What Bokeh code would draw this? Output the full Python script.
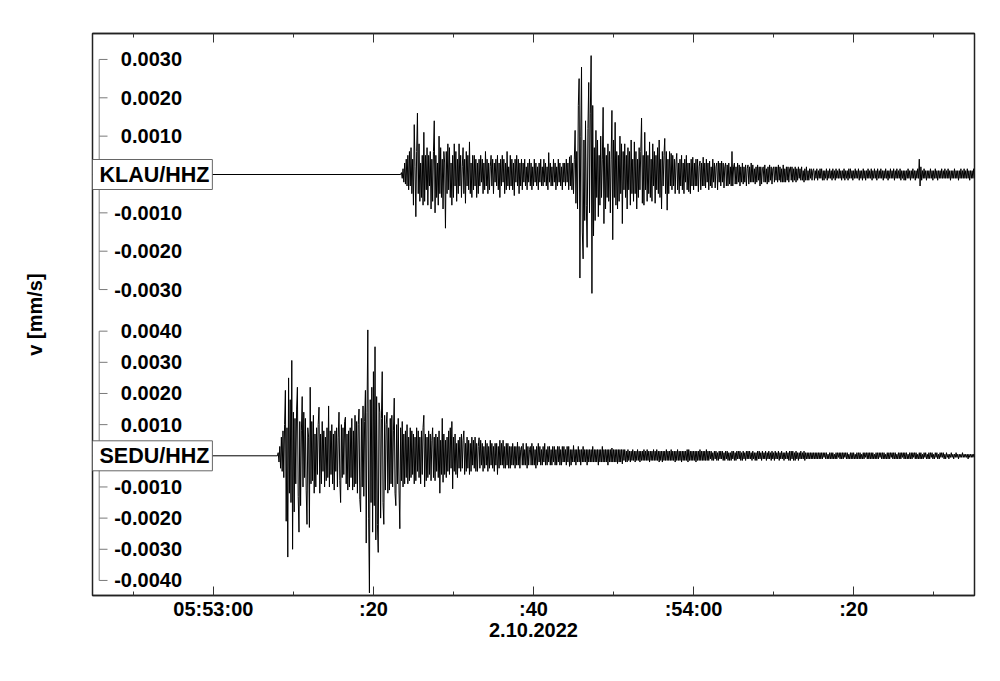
import pandas as pd
from bokeh.plotting import figure
from bokeh.models import Range1d, LinearAxis, FixedTicker, Label, ColumnDataSource
from bokeh.embed import file_html
from bokeh.resources import INLINE
from bokeh.core.properties import value

# ---------------- data ----------------
DATE_LABEL = "2.10.2022"
REF_TIME = "2022-10-02 05:53:00"          # time of the 05:53:00 tick
VIEW_START = -15.1                          # s relative to REF_TIME
VIEW_END = 95.1
UNIT = 1e-4                                 # trace values are in 1e-4 mm/s
DT = 0.1                                    # sample interval of the lists below (s)

MAJOR_TICKS = [0, 20, 40, 60, 80]           # s relative to REF_TIME
MAJOR_LABELS = ["05:53:00", ":20", ":40", ":54:00", ":20"]
MINOR_TICKS = [-10, 10, 30, 50, 70, 90]

STATIONS = ["KLAU/HHZ", "SEDU/HHZ"]
KLAU_TICKS = [0.0030, 0.0020, 0.0010, -0.0010, -0.0020, -0.0030]
SEDU_TICKS = [0.0040, 0.0030, 0.0020, 0.0010, -0.0010, -0.0020, -0.0030, -0.0040]

KLAU_RECORD_START = -15.2                   # quiet trace before the onset
KLAU_ONSET = 23.4
KLAU_VALUES = [
    0, 0.5, -1, 1.5, -2, 3, -2.5, 4, -3, 5,
    -4, 6, -3, 7, -5, 4, -8, 13, 2, -11,
    6, 16, -5, 8, -7, 3, -6, 5, -8, 11,
    -7, 5, -4, 7, -8, 5, -3, 6, -9, 4,
    -7, 6, 14, -10, 5, -6, 3, -8, 10, -5,
    7, -6, 4, -9, 6, 3, -14, 6, -5, 8,
    -4, 7, -6, 3, -8, 5, -6, 8, -3, 6,
    -7, 4, -5, 8, -3, 5, -6, 2, 7, -5,
    4, -7.5, 6, -3, 5, -4, 8.5, -5, 3, -6,
    5, -4, 5, -3, 4, -6, 3, -5, 4, -3,
    5, -2, 4, -5, 3, -4, 6, -3, 4, -5,
    3, -4, 2, 5, -3, 4, -5, 3, -2, 4,
    -3, 5, -4, 3, -6, 4, -3, 5, -2, 4,
    -5, 3, -4, 6, -3, 2, -4, 5, -3, 4,
    -4, 3, -5.5, 4, -2, 5, -3, 4, -5, 3,
    -3, 4, -4, 3, -2, 4, -3, 2, -4, 3,
    -2, 4, -3, 3, -4, 2, -3, 4, -2, 3,
    -3, 2, -4, 3, -2, 4, -3, 2, -3, 4,
    -2, 3, -3, 2, -4, 5.7, -2, 3, -3, 2,
    -3, 4, -2, 3, -4, 2, -3, 4, -2, 3,
    -3, 2, -4, 3, -2, 3, -3, 4, -2, 3,
    -4, 4.6, -3, 5, -4, 3, -5, 4, 11.5, -7.5,
    6, -9, 18, 25, -27, 10, 28, -15, -22, 9,
    -12, 14, -8, -19, 12, 24, -10, 16, 31, -31,
    18, -16, 7, -12, 11.5, -6, 9, -11, 5, -8,
    10, -6, 4, 17.5, -12.8, 7, -9, 5, -6, 8,
    -7, 6, -10, 4, 16.7, -17, 9, -6, 13.6, -8,
    6, -9, 5, -7, 10, -5, 8, -12.8, 6, -4,
    8, -6, 5, -9, 7, -4, 6, -8, 9, -5,
    4, -7, 8.5, -5, 6, -9, 4, -6, 7, -4,
    6, 14.7, -7.5, 5, -8, 11, -4, 6, -7, 5,
    -5, 8.5, -6, 4, -7, 8, -3, 6, -7.5, 5,
    -4, 7, -5, 9, -6, 4, -9, 6, -3, 5,
    9.4, -5, 6, -9.3, 4, -5, 6, -3, 5.5, -4,
    5, -3, 4, -5, 3, 5.5, -4, 3, -5, 4,
    -3, 5, -4, 3, -5, 4, -2, 5, -4, 3,
    -4.5, 3, -5, 4, -3, 4.5, -4, 3, -3, 4,
    -3, 4, -4.5, 2, 3.5, -4, 3, -3, 4.5, -3,
    3, -3.5, 4, -2, 3, -4, 3.5, -3, 2, -3.5,
    4, -2, 3, -3.5, 2, 3, -4, 3.5, -2, 3,
    -3, 3.5, -2, 3, -3.5, 2, 3, -3, 2.5, -3,
    3, -2.5, 2, -3, 6, -3, 2, 3, -2.5, 2,
    -2.5, 3, -2, 2.5, -3, 2, -2, 3, -2.5, 2,
    -2, 2.5, -3, 1.5, 2.5, -2.5, 2, -2, 3, -2,
    2.5, -2, 1.5, -2.5, 2, -2, 2.5, -1.5, 2, -3,
    2, -2.5, 1.5, 2, -2, 2.5, -2, 1.5, -2.5, 2,
    -2, 2.5, -1.5, 2, -2.5, 1.5, 2, -2, 2, -1.5,
    2, -2, 2.5, -1.5, 2, -2, 1.5, -2, 2.5, -2,
    1.5, -2, 2, -1.5, 2, -2, 1.5, 2, -1.5, 2,
    -2, 1.5, -1.5, 2, -2, 1.5, -1.5, 2, -1, 1.5,
    -1.5, 2, -1.5, 1, -2, 1.5, -1.5, 2, -1.5, 1,
    -1.5, 1.5, -1, 1.5, -1.5, 1, 1.5, -1.5, 1, -1,
    1.5, -1.5, 1, -1, 1.5, -1, 1.5, -1.5, 1, -1.5,
    1, -1, 1.5, -1.5, 1, -1, 1.5, -1, 1, -1.5,
    1.5, -1, 1, -1.5, 1.5, -1, 1, -1, 1.5, -1,
    1, -1.5, 1, -1, 1.5, -1.5, 1, -1, 1, -1.5,
    1.5, -1, 1.5, -1, 1, -1.5, 1, -1, 1.5, -1,
    1, -1, 1.5, -1.5, 1, -1, 1, -1.5, 1.5, -1,
    1, -1.5, 1, -1, 1.5, -1, 1, -1, 1.5, -1.5,
    1, -1, 1.5, -1, 1, -1.5, 1.5, -1, 1, -1,
    1.5, -1, 1, -1.5, 1, -1, 1.5, -1, 1, -1.5,
    1, -1, 1.5, -1, 1, -1, 1.5, -1.5, 1, -1,
    1.5, -1, 1, -1, 1.5, -1.5, 1, -1, 1, -1.5,
    1, -1.5, 1, -1, 1.5, -1, 1, -1.5, 1, -1,
    1.5, -1, 1, -1.5, 1, -1, 1.5, -1, 4, -3,
    2, -1.5, 1, -1, 1.5, -1, 1, -1.5, 1, -1,
    1, -1, 1.5, -1, 1, -1.5, 1, -1, 1.5, -1,
    1, -1.5, 1, -1, 1, -1, 1.5, -1, 1, -1,
    1.5, -1, 1, -1, 1.5, -1, 1, -1.5, 1, -1,
    1, -1, 1.5, -1, 1, -1, 1, -1.5, 1, -1,
    1.5, -1, 1, -1, 1.5, -1, 1, -1, 1.5, -1,
    1, -1.5, 1, -1, 1, -1, 1.5, -1,
]

SEDU_RECORD_START = -15.2
SEDU_ONSET = 8.0
SEDU_VALUES = [
    0, 1, -2, 3, -4, 6, -5, 8, -7, 10,
    21, -21, 9, -32.5, 25, -12, 18, -15, 30.6, -30,
    14, -18, 12, -9, 15, 22, -13, -24.5, 11, -16,
    8, 19, -10, 14, -7, 12, -11, -22, 9, 6,
    -23, 22, -9, 11, -8, 13, -12, 7, -10, 9,
    -6, 10, 15.6, -12, 7, -9, 11, -5, 8, -10,
    6, -8, 9, -7, 16, -10, 8, -6, 10, -9,
    7, -11, 8, -5, 9, -10, 6, 14, -8, -15,
    10, -7, 9, -6, 11, 12.4, -9, 7, -11, 8,
    -10, 9, -7, 12, -11, 8, -10, 13, -9, 11,
    -12, 10, 15, -14, -18, 12, -10, 16, -13, 11,
    21, -28, 14, 40.4, -20, -44, 18, -15, 22, -24.5,
    27, -16, 35, -27, 19, -22, -31, 17, 14, -20,
    12, 27, -15, -22, 13, -11, 10, 14, -12, 9,
    -11, 12, -9, 13, -10, 8, 18.5, -12, -16, 10,
    -9, 12, -11, -23.4, 9, -8, 11, -10, 7, -9,
    8, -7, 10, -9, 6, -8, 9, -7, 8, -6,
    7, -9, 6, -8, 9, -5, 8, -7, 6, -9,
    8, -6, 9, 13, -10, 7, -8, 6, -7, 8,
    -6, 7, -8, 5, 9, -7, 6, -8, 7, -5,
    6, -7, 8, -12, 5, -6, 12, -8.5, 7, -6,
    5, -7, 6, -5, 8, -6, 9, -4, 11, -10.6,
    6, -5, 7, -6, 4, -7, 5, -4, 6, -5,
    7, -4, 5, 8, -6, 4, -5, 6, -4, 5,
    -6, 4, -5, 6, -3, 5, -4, 6, -5, 4,
    -5, 3, 5.8, -4, 5, -3, 4, -5, 3, -4,
    5, -3, 4, -5, 3, -4, 5, -3, 4, -4,
    3, -5, 4, -3, 4, -6, 3, -4, 5, -3,
    4, -3, 5, -4, 3, -4, 4, -3, 4, -4,
    3, -4, 3, -3, 4, -3, 3, -4, 3, -3,
    4.4, -3, 3, -4, 2, 3, -3, 4, -3, 2,
    -3, 4, -4, 3, -3, 2, 3, -3, 4, -3,
    3, -3, 2, -4, 3, -3, 4, -2, 3, -3,
    2, -3, 3, -2, 4, -3, 2, -3, 3, -2,
    3, -3, 2, -3, 3, -2, 3, -3, 2, -3,
    3, -2, 3, -3, 2, -3, 3, -2, 3, -2,
    2, -3, 3, -2, 3, -3.4, 2, -3, 2, -2,
    3.3, -2, 2, -3, 2, -2, 3, -2, 2, -3,
    2, -2, 3, -2, 2, -2, 2, -3, 2, -2,
    2, -2, 2, -2, 3, -2, 2, -2, 2, -2,
    2, -3, 2, -2, 2, -2, 3, -2, 2, -2,
    2, -2, 2, -3, 2, -2, 2, -2, 2.5, -2,
    2, -2, 2, -2, 2, -2.5, 2, -2, 2, -2,
    2, -2.6, 2, -1.5, 2, -2, 1.5, -2, 2, -1.5,
    1.5, -2, 1.5, -1.5, 2, -1.5, 1.5, -2, 1.5, -1.5,
    2, -1.5, 1.5, -2, 1.5, -1.5, 1.5, -1.5, 2, -1.5,
    1.5, -1.5, 2, -1.5, 1.5, -2, 1.5, -1.5, 1.5, -1.5,
    2, -1.5, 1.5, -1.5, 2, -1.5, 1.5, -2, 1.5, -1.5,
    1.5, -2, 1.5, -1.5, 1.5, -1.5, 2, -1.5, 1.5, -1.5,
    1.5, -1.5, 2, -1.5, 1.5, -1.5, 1.5, -2, 1.5, -1.5,
    2, -1.5, 1.5, -1.5, 1.5, -2, 1.5, -1.5, 1.5, -1.5,
    1.5, -1.5, 2, -2, 2, -1.5, 1.5, -1.5, 1.5, -1.5,
    1.5, -1.5, 1.5, -2, 1.5, -1.5, 1.5, -1.5, 2, -1.5,
    1.5, -1.5, 1.5, -1.5, 1.5, -1.5, 2, -1.5, 1.5, -1.5,
    1.5, -1, 1.5, -1.5, 1, -1.5, 1.5, -1, 1.5, -1.5,
    1, -1.5, 1.5, -1, 1.5, -1, 1.5, -1.5, 1, -1.5,
    1.5, -1, 1.5, -1.5, 1, -1.5, 1, -1.5, 1.5, -1,
    1.5, -1.5, 1, -1.5, 1.5, -1, 1.5, -1, 1.5, -1.5,
    1, -1.5, 1.5, -1, 1, -1.5, 1.5, -1, 1.5, -1,
    1.5, -1, 1, -1.5, 1.5, -1, 1, -1.5, 1, -1.5,
    1.5, -1, 1.5, -1, 1, -1.5, 1.5, -1, 1, -1,
    1.5, -1.5, 1, -1, 1.5, -1, 1, -1.5, 1.5, -1,
    1, -1.5, 1.5, -1, 1, -1, 1.5, -1.5, 1, -1,
    1.5, -1, 1, -1.5, 1, -1, 1.5, -1, 1, -1.5,
    1.5, -1.5, 1.5, -1, 1.5, -1.5, 1, -1.5, 1.5, -1,
    1, -1.5, 1, -1, 1.5, -1, 1, -1, 1.5, -1.5,
    1, -1, 1, -1, 1, -1, 1, -1, 1, -1,
    1, -1, 1, -1, 1, -1, 1, -1, 1, -1,
    1, -1, 1, -0.5, 1, -1, 1, -1, 0.5, -1,
    1, -1, 1, -1, 1, -1, 0.5, -1, 1, -1,
    1, -0.5, 1, -1, 1, -1, 1, -1, 1, -0.5,
    1, -1, 1, -1, 0.5, -1, 1, -1, 1, -1,
    1, -1, 0.5, -1, 1, -1, 1, -1, 1, -1,
    0.5, -1, 1, -1, 1, -0.5, 1, -1, 1, -1,
    1, -1, 1, -1, 1, -1, 0.5, -1, 1, -1,
    1, -1, 1, -0.5, 1, -1, 1, -1, 1, -1,
    0.5, -1, 1, -1, 1, -1, 1, -0.5, 1, -1,
    1, -1, 1, -1, 0.5, -1, 1, -1, 1, -1,
    1, -0.5, 1, -1, 1, -1, 1, -1, 0.5, -1,
    1, -1, 1, -1, 1, -0.5, 1, -1, 1, -1,
    0.5, -1, 1, -1, 1, -1, 0.5, -1, 1, -0.5,
    1, -1, 0.5, -1, 1, -1, 1, -0.5, 1, -1,
    0.5, -1, 1, -0.5, 1, -1, 0.5, -1, 1, -0.5,
    1, -0.5, 1, -1, 0.5, -1, 1, -0.5, 0.5, -1,
    0.5, -0.5, 1, -0.5, 0.5, -1, 0.5, -0.5, 1, -0.5,
    0.5, -1, 0.5, -0.5, 0.5, -0.5, 1, -0.5, 0.5, -0.5,
    0.5, -0.5, 0.5, -1, 0.5, -0.5, 0.5, -0.5, 0.5, -0.5,
    0.5, -0.5,
]

# ---------------- layout / style ----------------
FONT_NAME = "Liberation Sans"
FONT = value(FONT_NAME)
W, H = 990, 672
B_LEFT, B_RIGHT, B_TOP, B_BOTTOM = 92, 16, 33, 77
FRAME_W = W - B_LEFT - B_RIGHT
FRAME_H = H - B_TOP - B_BOTTOM
REF = pd.Timestamp(REF_TIME)


def ms(sec):
    return (REF + pd.Timedelta(seconds=sec)).value / 1e6


def px_to_ms(px_from_left):
    return ms(VIEW_START + (VIEW_END - VIEW_START) * px_from_left / FRAME_W)


def y_range_for(center_px, px_per_milli):
    top = center_px / px_per_milli * 1e-3
    bottom = -(FRAME_H - center_px) / px_per_milli * 1e-3
    return Range1d(bottom, top)


p = figure(width=W, height=H, x_range=Range1d(ms(VIEW_START), ms(VIEW_END)),
           y_range=Range1d(0, 1), x_axis_type=None, y_axis_type=None,
           output_backend="svg", toolbar_location=None,
           min_border_left=B_LEFT, min_border_right=B_RIGHT,
           min_border_top=B_TOP, min_border_bottom=B_BOTTOM)
p.outline_line_color = "#222222"
p.outline_line_width = 1.5
p.background_fill_color = "white"
p.border_fill_color = "white"

p.extra_y_ranges = {
    "klau": y_range_for(141.0, 38.35),
    "sedu": y_range_for(422.3, 31.16),
}

# ---- traces ----
for name, start, onset, vals in [("klau", KLAU_RECORD_START, KLAU_ONSET, KLAU_VALUES),
                                 ("sedu", SEDU_RECORD_START, SEDU_ONSET, SEDU_VALUES)]:
    xs = [ms(start)] + [ms(onset + i * DT) for i in range(len(vals))]
    ys = [0.0] + [v * UNIT for v in vals]
    src = ColumnDataSource(dict(x=xs, y=ys))
    p.line("x", "y", source=src, y_range_name=name, line_color="black", line_width=1)

# ---- in-frame amplitude brackets ----
bx = px_to_ms(6.7)
bx2 = px_to_ms(15)
lx = px_to_ms(89.5)
for name, ticks, station in [("klau", KLAU_TICKS, STATIONS[0]), ("sedu", SEDU_TICKS, STATIONS[1])]:
    p.segment(x0=[bx], y0=[min(ticks)], x1=[bx], y1=[max(ticks)], y_range_name=name,
              line_color="#7a7a7a", line_width=1)
    p.segment(x0=[bx] * len(ticks), y0=ticks, x1=[bx2] * len(ticks), y1=ticks,
              y_range_name=name, line_color="#7a7a7a", line_width=1)
    p.text(x=[lx] * len(ticks), y=ticks, text=["%.4f" % t for t in ticks], y_range_name=name,
           text_font=FONT, text_font_style="bold", text_font_size="20px",
           text_align="right", text_baseline="middle", text_color="black")
    p.add_layout(Label(x=ms(VIEW_START), y=0, y_range_name=name, text=station,
                       x_offset=0, text_font=FONT_NAME, text_font_style="bold",
                       text_font_size="21.5px", text_baseline="middle", text_align="left",
                       text_color="black", background_fill_color="white",
                       border_line_color="#666666", border_line_width=1,
                       padding=dict(left=7, right=3, top=3, bottom=3)))

# ---- time axes ----
major_ms = [ms(t) for t in MAJOR_TICKS]
minor_ms = [ms(t) for t in MINOR_TICKS]


def time_axis(labels):
    ax = LinearAxis(ticker=FixedTicker(ticks=major_ms, minor_ticks=minor_ms))
    ax.major_tick_in = 9
    ax.major_tick_out = 0
    ax.minor_tick_in = 4
    ax.minor_tick_out = 0
    ax.major_tick_line_color = "#333333"
    ax.minor_tick_line_color = "#333333"
    ax.axis_line_color = "#222222"
    ax.axis_line_width = 1.5
    ax.major_label_overrides = {m: lab for m, lab in zip(major_ms, labels)}
    ax.major_label_text_font = FONT_NAME
    ax.major_label_text_font_style = "bold"
    ax.major_label_text_font_size = "20px"
    ax.major_label_text_color = "black"
    return ax


bottom = time_axis(MAJOR_LABELS)
bottom.major_label_standoff = 2
bottom.axis_label = DATE_LABEL
bottom.axis_label_text_font = FONT_NAME
bottom.axis_label_text_font_style = "bold"
bottom.axis_label_text_font_size = "20px"
bottom.axis_label_text_color = "black"
bottom.axis_label_standoff = 0
p.add_layout(bottom, "below")

top = time_axis([""] * len(MAJOR_TICKS))
top.major_label_standoff = 0
p.add_layout(top, "above")

yl = LinearAxis(ticker=FixedTicker(ticks=[]), axis_label="v [mm/s]")
yl.axis_line_color = None
yl.major_tick_line_color = None
yl.minor_tick_line_color = None
yl.axis_label_text_font = FONT_NAME
yl.axis_label_text_font_style = "bold"
yl.axis_label_text_font_size = "20px"
yl.axis_label_text_color = "black"
yl.axis_label_standoff = 47
p.add_layout(yl, "left")

open("out.html", "w").write(file_html(p, INLINE))
